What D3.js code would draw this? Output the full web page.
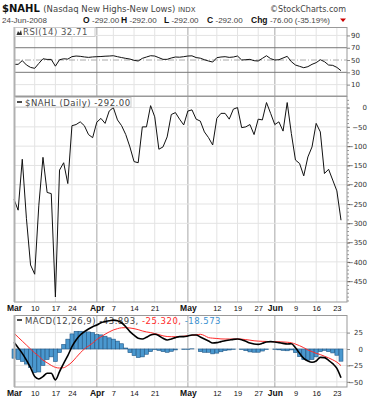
<!DOCTYPE html>
<html>
<head>
<meta charset="utf-8">
<script src="https://cdn.jsdelivr.net/npm/d3@7"></script>
<style>
body { margin: 0; background: #fff; }
text { font-family: "DejaVu Sans", Verdana, sans-serif; }
</style>
</head>
<body>
<script>
var w = 382;
var h = 400;

// trading days, Mar 3 - Jun 24 2008
var dates = [
  "03-03","03-04","03-05","03-06","03-07","03-10","03-11","03-12","03-13","03-14",
  "03-17","03-18","03-19","03-20","03-24","03-25","03-26","03-27","03-28","03-31",
  "04-01","04-02","04-03","04-04","04-07","04-08","04-09","04-10","04-11","04-14",
  "04-15","04-16","04-17","04-18","04-21","04-22","04-23","04-24","04-25","04-28",
  "04-29","04-30","05-01","05-02","05-05","05-06","05-07","05-08","05-09","05-12",
  "05-13","05-14","05-15","05-16","05-19","05-20","05-21","05-22","05-23","05-27",
  "05-28","05-29","05-30","06-02","06-03","06-04","06-05","06-06","06-09","06-10",
  "06-11","06-12","06-13","06-16","06-17","06-18","06-19","06-20","06-23","06-24"
];

var nahl = [
  -238,-266,-134,-287,-408,-432,-253,-129,-220,-223,
  -491,-162,-143,-197,-47,-44,-37,-47,-70,-78,
  -38,-28,-41,-9,0,-32,-47,-70,-102,-140,
  -143,-50,-50,5,-24,-108,-102,-76,-18,-13,
  -30,-45,-9,-6,-30,-35,-63,-78,-97,-28,
  -15,-15,-30,-4,0,-52,-50,-44,-70,-30,
  -32,13,-15,-44,-37,-61,13,-67,-136,-145,
  -177,-128,-102,-41,-63,-171,-160,-188,-216,-292
];

var rsi = [
  43,43,49,42,38,36.5,44.5,52,51,51,
  40,50.5,52,51.5,55.5,56.5,56,55,54.3,55,
  55.4,55.7,56.2,56.5,57,55.4,54,52.7,51.6,49.5,
  48.4,52.7,54.9,57,56.5,53.8,51.1,51.1,53.3,54.9,
  54.6,55.4,56.5,56.8,54,53,50.5,48.4,46.7,53.8,
  54.9,55.4,54.3,54.9,56.5,50,50.5,51.1,48.9,48.4,
  52.7,57,52.2,50,50.5,53.3,56,47.3,41.9,39.7,
  37.5,39.2,43,45.7,50.5,47.3,41.9,41.3,38,32.71
];

var macd = [
  10.2,2,-6.6,-16.8,-28.5,-42,-45.7,-42,-37,-37,
  -47,-34.5,-21.8,-10.2,3.6,13.7,21.3,26.4,30.5,34,
  36.6,40,42,43,44,43,40,34,26.4,21,
  16.3,15.2,17.8,21.3,22.4,20.3,16.3,13.7,15.2,17.3,
  18.8,18.8,19.8,21.3,21.3,18.3,15.2,12.2,9.1,9.7,
  11.2,12.7,13.7,14.7,15.2,14.2,11.7,9.1,7.6,7.1,
  8.6,10.7,11.2,10.7,9.7,8.6,7.6,8.1,2,-6.6,
  -14.2,-18.3,-20.3,-18.3,-12.7,-13.2,-17.3,-22.4,-29.5,-43.893
];

var signal = [
  24,18,12,6,0,-6,-11,-17,-21,-25,
  -28,-29,-28.5,-25,-20,-13,-6,0,4.5,9,
  14.5,18.5,22.5,26,29,31,32.3,32.5,32,31,
  29.5,27.5,26,25,23.5,22,20,19,18.7,18.7,
  19,19.5,20.3,21,21.5,22.4,20.5,17.3,16.5,16,
  15.4,15.2,15.2,15.2,15.2,15,14.3,13.5,12.5,12,
  11.7,11.5,11.3,11.2,11,10.7,10.3,9.5,7.5,5,
  2,-1.5,-4,-6.6,-8.5,-11,-13.5,-16.5,-20,-25.32
];

var hist = [
  -14,-16,-19,-23,-28,-36,-35,-25,-16,-12,
  -19,-5.5,7,15,23,27,27,26,26,25,
  22,21.5,19.5,17,15,12,8,1.5,-5.6,-10,
  -13,-12,-8,-4,-1,-2,-4,-5,-3.5,-1.4,
  0,-0.7,-0.5,0.3,0,-4,-5,-5,-7.4,-6.3,
  -4.2,-2.5,-1.5,-0.5,0,-0.8,-2.6,-4.4,-4.9,-4.9,
  -3.1,-0.8,0,-0.5,-1.3,-2.1,-2.7,-1.4,-5.5,-11.6,
  -16,-17,-16,-12,-4,-2,-4,-6,-9.5,-18.573
];

var tickDates = ["03-03","03-10","03-17","03-24","04-01","04-07","04-14","04-21","04-28",
                 "05-01","05-05","05-12","05-19","05-27","06-02","06-09","06-16","06-23"];
var tickLabels = ["Mar","10","17","24","Apr","7","14","21","",
                  "May","","12","19","27","Jun","9","16","23"];
var monthTicks = ["03-03","04-01","05-01","06-02"];

var rsiTicks = [90, 70, 50, 30, 10];
var mainTicks = [0, -50, -100, -150, -200, -250, -300, -350, -400, -450];
var macdTicks = [25, 0, -25, -50];

var left = 14, right = 347;

var svg = d3.select("body")
    .append("svg")
    .attr("width", w)
    .attr("height", h)
    .style("background", "#fff");

var x = d3.scalePoint()
    .domain(dates)
    .range([14, 341]);

var yRsi = d3.scaleLinear().domain([-8.5, 103.7]).range([96, 27]);
var yMain = d3.scaleLinear().domain([-504, 30]).range([302, 96]);
var yMacd = d3.scaleLinear().domain([-57.9, 51.8]).range([387, 315]);

function tickLabel(d) {
    return tickLabels[tickDates.indexOf(d)];
}

// panel frame with grid
function panel(y, gridVals) {
    var top = y.range()[1], bottom = y.range()[0];
    var g = svg.append("g");
    g.selectAll(".vg")
        .data(tickDates.slice(1))
        .enter()
        .append("line")
        .attr("x1", function(d) { return x(d); })
        .attr("x2", function(d) { return x(d); })
        .attr("y1", top)
        .attr("y2", bottom)
        .attr("stroke", function(d) { return monthTicks.indexOf(d) >= 0 ? "#c4c4c4" : "#e3e3e3"; })
        .attr("stroke-width", function(d) { return monthTicks.indexOf(d) >= 0 ? 1.5 : 1; });
    g.selectAll(".hg")
        .data(gridVals)
        .enter()
        .append("line")
        .attr("x1", left)
        .attr("x2", right)
        .attr("y1", function(d) { return y(d); })
        .attr("y2", function(d) { return y(d); })
        .attr("stroke", "#e3e3e3");
    return g;
}

function frame(y) {
    var top = y.range()[1], bottom = y.range()[0];
    svg.append("rect")
        .attr("x", left + 0.5)
        .attr("y", top + 0.5)
        .attr("width", right - left - 0.5)
        .attr("height", bottom - top - 0.5)
        .attr("fill", "none")
        .attr("stroke", "#999");
    svg.append("line")
        .attr("x1", left + 0.5).attr("x2", left + 0.5)
        .attr("y1", top).attr("y2", bottom)
        .attr("stroke", "#b0b0b0")
        .attr("stroke-width", 2);
}

function rightAxis(y, vals, xpos) {
    var ax = svg.append("g")
        .attr("transform", "translate(" + right + ",0)")
        .call(d3.axisRight(y).tickValues(vals).tickSize(3).tickFormat(d3.format("d")));
    ax.select(".domain").remove();
    ax.selectAll("line").attr("stroke", "#888");
    ax.selectAll("text")
        .attr("x", xpos)
        .attr("text-anchor", "end")
        .style("font-family", "DejaVu Sans")
        .style("font-size", "7px")
        .attr("fill", "#333");
}

function bottomAxis(ypos) {
    var ax = svg.append("g")
        .attr("transform", "translate(0," + ypos + ")")
        .call(d3.axisBottom(x).tickValues(tickDates).tickSize(0).tickFormat(tickLabel));
    ax.select(".domain").remove();
    ax.selectAll("text")
        .attr("y", 0)
        .attr("dy", 0)
        .style("font-family", "'Liberation Sans', Arial, sans-serif")
        .style("font-size", function(d) { return monthTicks.indexOf(d) >= 0 ? "8.5px" : "7.5px"; })
        .style("font-weight", function(d) { return monthTicks.indexOf(d) >= 0 ? "bold" : "normal"; })
        .attr("fill", "#111");
}

function labelText(xp, yp) {
    return svg.append("text")
        .attr("x", xp).attr("y", yp)
        .style("font-size", "8.5px")
        .style("letter-spacing", "0.5px");
}

// ---------- RSI panel ----------
panel(yRsi, [90, 10]);
[70, 30].forEach(function(v) {
    svg.append("line")
        .attr("x1", left).attr("x2", right)
        .attr("y1", yRsi(v)).attr("y2", yRsi(v))
        .attr("stroke", "#777");
});
svg.append("line")
    .attr("x1", left).attr("x2", right)
    .attr("y1", yRsi(50)).attr("y2", yRsi(50))
    .attr("stroke", "#aaa")
    .attr("stroke-dasharray", "6,2,1,2");

var lineRsi = d3.line()
    .x(function(d, i) { return x(dates[i]); })
    .y(function(d) { return yRsi(d); });

svg.append("path")
    .datum(rsi)
    .attr("d", lineRsi)
    .attr("fill", "none")
    .attr("stroke", "#111")
    .attr("stroke-width", 1);

frame(yRsi);
rightAxis(yRsi, rsiTicks, 13);

svg.append("rect")
    .attr("x", left + 1).attr("y", 27.5)
    .attr("width", 80).attr("height", 9)
    .attr("fill", "#fff").attr("stroke", "#ccc");
svg.append("path")
    .attr("d", "M16.5,35 L18,31 L19.5,33 L21,30 L22,35 Z")
    .attr("fill", "#333");
labelText(23, 35).attr("fill", "#555").text("RSI(14) 32.71");

// ---------- main panel ----------
panel(yMain, mainTicks);

var lineMain = d3.line()
    .x(function(d, i) { return x(dates[i]); })
    .y(function(d) { return yMain(d); });

svg.append("path")
    .datum(nahl)
    .attr("d", lineMain)
    .attr("fill", "none")
    .attr("stroke", "#111")
    .attr("stroke-width", 1);

frame(yMain);

var minor = svg.append("g")
    .attr("transform", "translate(" + right + ",0)")
    .call(d3.axisRight(yMain).tickValues(d3.range(-500, 30, 10)).tickSize(2).tickFormat(""));
minor.select(".domain").remove();
minor.selectAll("line").attr("stroke", "#999");

rightAxis(yMain, mainTicks, 20);

svg.append("rect")
    .attr("x", left + 1).attr("y", 97.5)
    .attr("width", 116).attr("height", 9.5)
    .attr("fill", "#fff").attr("stroke", "#ccc");
svg.append("line")
    .attr("x1", 17).attr("x2", 22)
    .attr("y1", 102).attr("y2", 102)
    .attr("stroke", "#111").attr("stroke-width", 1.5);
labelText(25, 105.5).attr("fill", "#444").text("$NAHL (Daily) -292.00");

bottomAxis(311);

// ---------- MACD panel ----------
panel(yMacd, macdTicks);

svg.append("line")
    .attr("x1", 17).attr("x2", 22)
    .attr("y1", 320).attr("y2", 320)
    .attr("stroke", "#111").attr("stroke-width", 1.5);
var mt = labelText(25, 323.5);
mt.append("tspan").attr("fill", "#444").text("MACD(12,26,9) -43.893, ");
mt.append("tspan").attr("fill", "#ff2a2a").text("-25.320, ");
mt.append("tspan").attr("fill", "#3a8fd0").text("-18.573");

var bw = x.step() * 0.95;
svg.append("g")
    .selectAll("rect")
    .data(hist)
    .enter()
    .append("rect")
    .attr("x", function(d, i) { return x(dates[i]) - bw / 2; })
    .attr("y", function(d) { return yMacd(Math.max(0, d)); })
    .attr("width", bw)
    .attr("height", function(d) { return Math.abs(yMacd(d) - yMacd(0)); })
    .attr("fill", "#4a98cf")
    .attr("stroke", "#1f5685")
    .attr("stroke-width", 0.6);

var lineMacd = d3.line()
    .curve(d3.curveMonotoneX)
    .x(function(d, i) { return x(dates[i]); })
    .y(function(d) { return yMacd(d); });

svg.append("path")
    .datum(signal)
    .attr("d", lineMacd)
    .attr("fill", "none")
    .attr("stroke", "#ff2a2a")
    .attr("stroke-width", 1);

svg.append("path")
    .datum(macd)
    .attr("d", lineMacd)
    .attr("fill", "none")
    .attr("stroke", "#000")
    .attr("stroke-width", 1.6);

frame(yMacd);
rightAxis(yMacd, macdTicks, 16);

bottomAxis(396);

// ---------- header ----------
var t1 = svg.append("text").attr("x", 2).attr("y", 12);
t1.append("tspan").style("font-size", "10px").style("font-weight", "bold").attr("fill", "#111").text("$NAHL ");
t1.append("tspan").style("font-size", "8.5px").attr("fill", "#444").text("(Nasdaq New Highs-New Lows) ");
t1.append("tspan").style("font-size", "7px").attr("fill", "#444").text("INDX");

svg.append("text")
    .attr("x", 346).attr("y", 12)
    .attr("text-anchor", "end")
    .style("font-size", "8px")
    .attr("fill", "#444")
    .text("©StockCharts.com");

var arial = "'Liberation Sans', Arial, sans-serif";
svg.append("text")
    .attr("x", 2).attr("y", 23)
    .style("font-family", arial)
    .style("font-size", "8px")
    .attr("fill", "#444")
    .text("24-Jun-2008");

var ohlc = [["O", 83, "-292.00"], ["H", 121, "-292.00"], ["L", 164, "-292.00"], ["C", 207, "-292.00"], ["Chg", 251, "-76.00 (-35.19%)"]];
ohlc.forEach(function(d) {
    var t = svg.append("text").attr("x", d[1]).attr("y", 23).style("font-family", arial);
    t.append("tspan").style("font-size", "8.5px").style("font-weight", "bold").attr("fill", "#111").text(d[0] + " ");
    t.append("tspan").style("font-size", "8px").attr("fill", "#444").text(d[2]);
});
svg.append("path")
    .attr("d", "M340,18.5 L346,18.5 L343,22 Z")
    .attr("fill", "#c00");
</script>
</body>
</html>
